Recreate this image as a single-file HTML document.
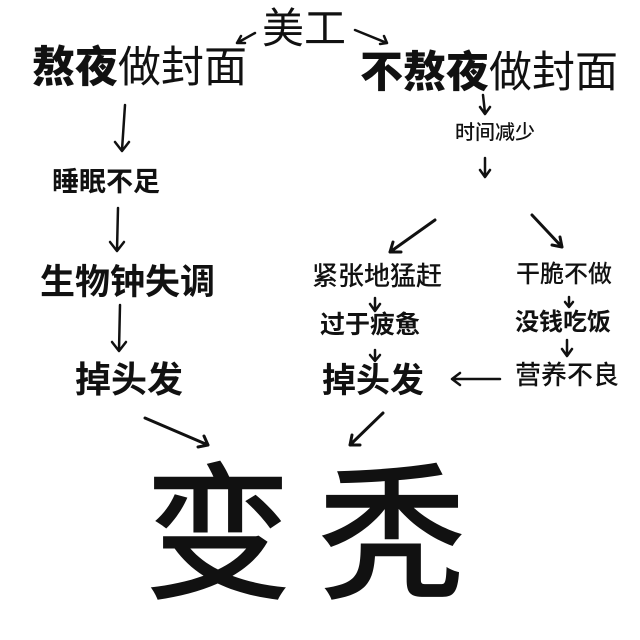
<!DOCTYPE html>
<html><head><meta charset="utf-8"><style>
body{margin:0;width:640px;height:640px;background:#fff;overflow:hidden;position:relative;font-family:"Liberation Sans","Noto Sans CJK SC",sans-serif;color:#111}
.t{position:absolute;white-space:nowrap;line-height:1}
b{font-weight:900}
svg{position:absolute;left:0;top:0}
</style></head><body>
<div class="t" style="left:262px;top:8px;font-size:42px">美工</div>
<div class="t" style="left:32px;top:47px;font-size:43px"><b>熬夜</b>做封面</div>
<div class="t" style="left:360px;top:52px;font-size:43px"><b>不熬夜</b>做封面</div>
<div class="t" style="left:455px;top:123px;font-size:20px;font-weight:500">时间减少</div>
<div class="t" style="left:52px;top:169px;font-size:27px;font-weight:bold">睡眠不足</div>
<div class="t" style="left:40px;top:265px;font-size:35px;font-weight:bold">生物钟失调</div>
<div class="t" style="left:75px;top:362px;font-size:36px;font-weight:bold">掉头发</div>
<div class="t" style="left:312px;top:263px;font-size:26px;font-weight:500">紧张地猛赶</div>
<div class="t" style="left:516px;top:263px;font-size:24px;font-weight:500">干脆不做</div>
<div class="t" style="left:320px;top:313px;font-size:25px;font-weight:bold">过于疲惫</div>
<div class="t" style="left:515px;top:311px;font-size:24px;font-weight:bold">没钱吃饭</div>
<div class="t" style="left:322px;top:364px;font-size:34px;font-weight:bold">掉头发</div>
<div class="t" style="left:515px;top:362px;font-size:26px;font-weight:500">营养不良</div>
<div class="t" style="left:144px;top:463px;font-size:148px;font-weight:500">变</div>
<div class="t" style="left:318px;top:463px;font-size:148px;font-weight:500">秃</div>
<svg width="640" height="640" fill="none" stroke="#111" stroke-width="2.5" stroke-linecap="round" stroke-linejoin="round">
<path d="M255 33 L237 43 M237 43 L245 43 M237 43 L241 36"/>
<path d="M355 30 L387 43 M387 43 L380 44 M387 43 L384 36"/>
<path d="M125 105 L122 150 M115 142 L122 151 L129 142"/>
<path d="M483 95 L485 113 M480 107 L485 114 L490 107"/>
<path d="M485 158 L485 176 M480 170 L485 177 L490 170"/>
<path d="M118 208 L117 250 M110 242 L117 251 L124 242"/>
<path d="M120 305 L119 350 M112 342 L119 351 L126 342"/>
<path d="M435 220 L390 252 M390 252 L401 252 M390 252 L393 242" stroke-width="3"/>
<path d="M532 215 L562 247 M562 247 L552 245 M562 247 L560 237" stroke-width="3"/>
<path d="M375 298 L375 310 M370 304 L375 311 L380 304"/>
<path d="M375 350 L375 360 M370 355 L375 361 L380 355"/>
<path d="M569 297 L569 306 M565 302 L569 307 L573 302"/>
<path d="M567 340 L567 355 M562 349 L567 356 L572 349"/>
<path d="M500 379 L452 379 M460 373 L452 379 L460 385"/>
<path d="M145 418 L208 445 M208 445 L198 447 M208 445 L204 436" stroke-width="3"/>
<path d="M383 413 L350 445 M350 445 L352 435 M350 445 L360 445" stroke-width="3"/>
</svg>
</body></html>
